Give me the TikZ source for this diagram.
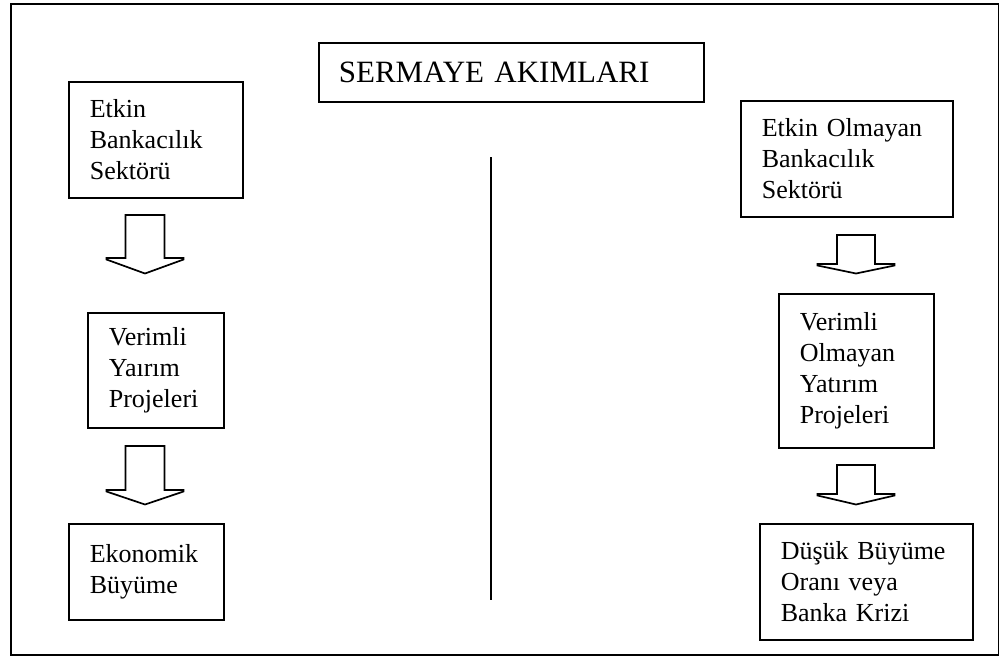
\documentclass[tikz,border=0pt]{standalone}
\usepackage{fontspec}
\setmainfont{Liberation Serif}
\usepackage{tikz}

\begin{document}
\begin{tikzpicture}[x=1pt, y=-1pt, line width=1.7pt,
					every node/.style = {font=\fontsize{26}{31}\selectfont}]

\tikzstyle{kutu} = [rectangle, draw, align=left, anchor=north west, inner xsep=21pt, inner ysep=0pt]
\tikzstyle{blok} = [draw, line width=1.7pt, line join=miter]

\useasboundingbox (0,0) rectangle (1000,656);
\draw (10.7,4) rectangle (998.5,655);

\node[kutu, font=\fontsize{31}{36}\selectfont, inner xsep=20pt, text width=345pt, minimum height=59pt] (baslik) at (318,42) {SERMAYE AKIMLARI};

\node[kutu, text width=132pt, minimum height=116pt] (etkin) at (68,81) {Etkin\\Bankacılık\\Sektörü};
\node[kutu, text width=94pt, minimum height=115pt] (verimli) at (87,312) {Verimli\\Yaırım\\Projeleri};
\node[kutu, text width=113pt, minimum height=96pt] (buyume) at (68,523) {Ekonomik\\Büyüme};

\node[kutu, text width=170pt, minimum height=116pt] (etkinolm) at (740,100) {Etkin Olmayan\\Bankacılık\\Sektörü};
\node[kutu, text width=113pt, minimum height=154pt] (verimsiz) at (778,293) {Verimli\\Olmayan\\Yatırım\\Projeleri};
\node[kutu, text width=171pt, minimum height=116pt] (kriz) at (759,523) {Düşük Büyüme\\Oranı veya\\Banka Krizi};

\coordinate (ayrac1) at (491,157);
\coordinate (ayrac2) at (491,600);
\draw (ayrac1) -- (ayrac2);

\coordinate (ok1) at (145,215);
\coordinate (ok2) at (145,446);
\coordinate (ok3) at (856,235);
\coordinate (ok4) at (856,465);

\draw[blok] (ok1) ++(-19.5,0) -- ++(0,43) -- ++(-19,0) -- ++(0,1.5) -- ++(38.5,14) -- ++(38.5,-14) -- ++(0,-1.5) -- ++(-19,0) -- ++(0,-43) -- cycle;
\draw[blok] (ok2) ++(-19.5,0) -- ++(0,44) -- ++(-19,0) -- ++(0,1.5) -- ++(38.5,13) -- ++(38.5,-13) -- ++(0,-1.5) -- ++(-19,0) -- ++(0,-44) -- cycle;
\draw[blok] (ok3) ++(-19,0) -- ++(0,29) -- ++(-19.5,0) -- ++(0,1.5) -- ++(38.5,8) -- ++(38.5,-8) -- ++(0,-1.5) -- ++(-19.5,0) -- ++(0,-29) -- cycle;
\draw[blok] (ok4) ++(-19,0) -- ++(0,29) -- ++(-19.5,0) -- ++(0,1.5) -- ++(38.5,9) -- ++(38.5,-9) -- ++(0,-1.5) -- ++(-19.5,0) -- ++(0,-29) -- cycle;
\end{tikzpicture}
\end{document}
